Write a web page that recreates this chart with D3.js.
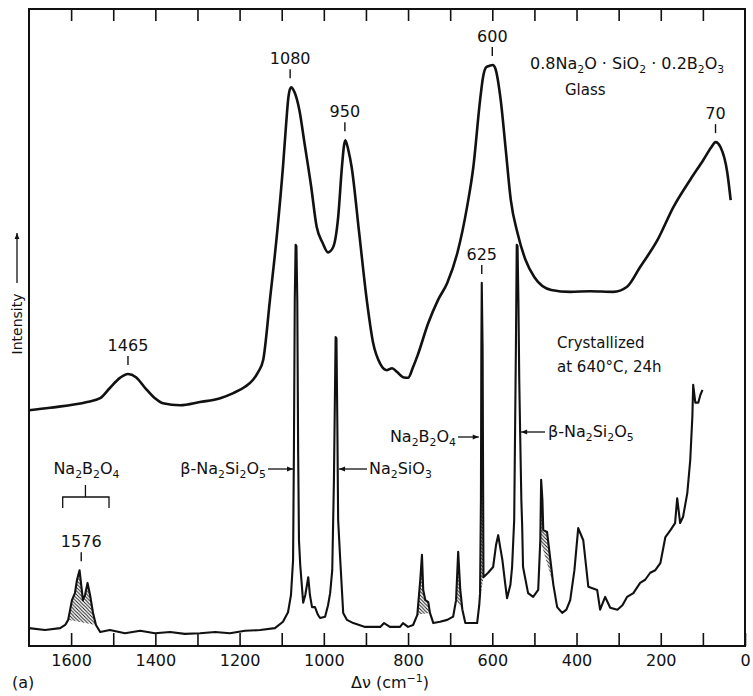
<!DOCTYPE html>
<html><head><meta charset="utf-8">
<script src="https://cdn.jsdelivr.net/npm/d3@7"></script>
<style>
body{margin:0;background:#fff}
text{font-family:"DejaVu Sans","Liberation Sans",sans-serif;fill:#111}
</style>
</head><body>
<svg id="c" width="753" height="696"></svg>
<script>
// ---------- DATA ----------
const glassWavenumber = [1700,1650,1562,1531,1508,1484,1465,1446,1424,1401,1382,1341,1294,1246,1215,1187,1168,1156,1144,1128,1111,1097,1090,1084,1078,1070,1058,1046,1030,1017,1003,990,978,966,957,952,949,942,934,916,898,883,866,850,838,826,812,800,788,778,752,729,707,683,660,645,629,622,614,606,599,593,580,568,556,540,521,500,460,415,367,313,280,249,208,170,130,99,80,70,58,42,34];
const glassIntensity  = [37.0,37.4,38.3,38.9,40.5,42.1,42.7,42.2,40.5,38.9,38.1,37.8,38.3,38.9,39.7,40.7,41.8,43.0,44.9,54.3,64.8,75.2,81.5,86.2,87.7,87.0,84.1,79.0,72.1,65.8,63.3,61.8,62.6,67.3,75.2,78.6,79.4,77.9,75.2,64.8,54.3,47.6,44.3,43.3,43.6,43.0,42.2,42.1,43.8,45.5,50.7,54.3,57.0,61.7,68.9,75.2,85.7,89.3,90.9,91.1,91.2,90.7,85.7,77.9,70.0,64.8,60.6,57.9,55.9,55.6,55.7,55.6,56.4,59.5,63.7,68.9,73.2,76.3,78.3,79.1,78.3,74.3,70.0];

const crystWavenumber = [1700,1662,1626,1614,1607,1598,1591,1586,1580,1575,1572,1567,1561,1555,1548,1541,1531,1508,1472,1436,1401,1365,1330,1294,1258,1223,1187,1151,1116,1097,1085,1078,1073,1071,1069,1067,1065,1063,1061,1059,1056,1049,1044,1037,1033,1028,1021,1014,1009,997,990,985,980,976,972,970,968,966,961,954,945,930,902,866,857,843,819,812,800,788,778,771,767,764,759,752,748,740,724,707,693,686,681,676,671,664,636,631,629,627,626,625,623,621,610,598,591,586,581,576,569,565,557,553,548,544,542,540,538,536,534,531,529,527,515,503,491,486,484,481,479,470,462,455,446,434,424,415,405,396,384,372,351,344,332,320,303,291,280,265,249,237,225,213,201,189,177,166,161,154,147,137,130,125,123,118,111,106,101];
const crystIntensity  = [2.8,2.5,2.8,3.3,4.1,7.2,8.3,10.4,11.9,9.0,7.2,8.0,9.9,8.0,5.2,3.3,2.2,2.5,2.0,2.4,2.0,2.2,1.9,2.0,2.2,2.0,2.4,2.5,2.8,3.8,5.3,8.0,13.5,30.8,54.3,63.0,62.8,54.3,30.8,16.6,12.7,6.8,8.0,10.8,8.0,6.1,6.1,4.9,4.4,4.6,6.4,8.3,11.9,26.1,48.5,48.3,35.5,19.8,13.5,5.2,4.1,3.6,3.0,3.0,3.6,3.0,3.0,3.6,3.0,3.3,4.9,10.4,14.3,8.8,7.2,6.9,5.2,3.6,3.8,4.1,4.6,7.2,14.8,8.8,5.7,3.6,3.6,6.4,8.3,22.9,46.5,57.0,46.5,10.8,11.5,12.4,15.9,17.4,15.4,13.5,9.6,7.5,9.6,12.4,19.8,46.5,63.0,62.8,54.3,41.8,33.9,22.9,18.7,12.4,8.3,7.7,8.8,16.6,26.1,22.9,18.2,17.9,13.5,9.6,6.1,5.2,5.7,7.2,11.9,18.5,16.6,9.3,8.8,5.7,7.7,6.0,5.7,6.4,7.7,8.3,9.9,10.4,11.5,11.9,13.0,17.1,18.2,19.3,23.2,19.3,20.3,24.0,29.2,36.0,41.0,38.2,38.2,39.4,40.2];

// hatched (Na2B2O4) bands on the crystallized trace: [from, to] in cm-1
const hatchFrom = [1610, 778, 688, 631, 486];
const hatchTo   = [1538, 748, 668, 617, 452];

const glassPeakValues = [1465, 1080, 950, 600, 70];
const glassPeakLabels = ["1465", "1080", "950", "600", "70"];
const crystPeakValues = [1576, 625];
const crystPeakLabels = ["1576", "625"];

const xTickValues = [1600,1500,1400,1300,1200,1100,1000,900,800,700,600,500,400,300,200,100,0];
const xTickLabels = ["1600","1400","1200","1000","800","600","400","200","0"];

// ---------- CHART ----------
const svg = d3.select("#c");
const L = 29, R = 745, T = 9, B = 646;
const x = d3.scaleLinear().domain([1700, 0]).range([L, R]);
const y = d3.scaleLinear().domain([0, 100]).range([B, T]);

const glass = glassWavenumber.map((v, i) => ({v, I: glassIntensity[i]}));
const cryst = crystWavenumber.map((v, i) => ({v, I: crystIntensity[i]}));

// hatch pattern
const defs = svg.append("defs");
const pat = defs.append("pattern").attr("id", "hatch").attr("patternUnits", "userSpaceOnUse")
  .attr("width", 3.5).attr("height", 3.5);
pat.append("path").attr("d", "M-1,-1 L4.5,4.5 M-1,2.5 L1,4.5 M2.5,-1 L4.5,1")
  .attr("stroke", "#111").attr("stroke-width", 0.9);
const arrowM = defs.append("marker").attr("id", "arr").attr("viewBox", "0 0 10 10")
  .attr("refX", 10).attr("refY", 5).attr("markerWidth", 8).attr("markerHeight", 6)
  .attr("markerUnits", "userSpaceOnUse").attr("orient", "auto");
arrowM.append("path").attr("d", "M0,1 L10,5 L0,9 Z").attr("fill", "#111");

// frame
svg.append("rect").attr("x", L).attr("y", T).attr("width", R - L).attr("height", B - T)
  .attr("fill", "none").attr("stroke", "#111").attr("stroke-width", 2);

// axes
const labelFor = d => (d % 200 === 0 ? xTickLabels[(1600 - d) / 200] : "");
const gb = svg.append("g").attr("transform", `translate(0,${B})`)
  .call(d3.axisBottom(x).tickValues(xTickValues).tickSize(-13).tickPadding(9).tickFormat(labelFor));
gb.select(".domain").remove();
gb.selectAll("line").attr("stroke", "#111").attr("stroke-width", 1.6);
gb.selectAll("text").attr("font-size", 16).attr("font-family", "DejaVu Sans").attr("fill", "#111");

const gt = svg.append("g").attr("transform", `translate(0,${T})`)
  .call(d3.axisTop(x).tickValues(xTickValues.filter(d => d > 0 && d < 1700)).tickSize(-12).tickFormat(""));
gt.select(".domain").remove();
gt.selectAll("line").attr("stroke", "#111").attr("stroke-width", 1.6);

// hatched areas
hatchFrom.forEach((a, k) => {
  const b = hatchTo[k];
  const pts = cryst.filter(d => d.v <= a && d.v >= b);
  const p0 = pts[0], p1 = pts[pts.length - 1];
  const base = v => p0.I + (p1.I - p0.I) * (p0.v - v) / (p0.v - p1.v);
  svg.append("path").datum(pts)
    .attr("d", d3.area().x(d => x(d.v)).y0(d => y(Math.min(base(d.v), d.I))).y1(d => y(d.I)))
    .attr("fill", "url(#hatch)").attr("stroke", "none");
});

// traces
svg.append("path").datum(glass)
  .attr("d", d3.line().x(d => x(d.v)).y(d => y(d.I)).curve(d3.curveMonotoneX))
  .attr("fill", "none").attr("stroke", "#111").attr("stroke-width", 2.6).attr("stroke-linejoin", "round");
svg.append("path").datum(cryst)
  .attr("d", d3.line().x(d => x(d.v)).y(d => y(d.I)))
  .attr("fill", "none").attr("stroke", "#111").attr("stroke-width", 2.1).attr("stroke-linejoin", "round");

// peak labels
function peakTop(series, v) {
  return d3.max(series.filter(d => Math.abs(d.v - v) <= 10), d => d.I);
}
function drawPeak(series, v, label) {
  const py = y(peakTop(series, v));
  const px = x(v);
  svg.append("line").attr("x1", px).attr("x2", px).attr("y1", py - 9).attr("y2", py - 18)
    .attr("stroke", "#111").attr("stroke-width", 1.4);
  svg.append("text").attr("x", px).attr("y", py - 23).attr("text-anchor", "middle")
    .attr("font-size", 16).text(label);
}
glassPeakValues.forEach((v, i) => drawPeak(glass, v, glassPeakLabels[i]));
crystPeakValues.forEach((v, i) => drawPeak(cryst, v, crystPeakLabels[i]));

// chemical text helper: parts [text, isSub]
function chem(xp, yp, parts, size, anchor) {
  const t = svg.append("text").attr("x", xp).attr("y", yp).attr("font-size", size)
    .attr("text-anchor", anchor || "start");
  parts.forEach(([s, sub], i) => {
    const prevSub = i > 0 && parts[i - 1][1];
    const ts = t.append("tspan").text(s);
    if (sub) ts.attr("font-size", size * 0.68);
    ts.attr("dy", sub && !prevSub ? 4 : (!sub && prevSub ? -4 : 0));
  });
  return t;
}

chem(530, 69, [["0.8Na",0],["2",1],["O · SiO",0],["2",1],[" · 0.2B",0],["2",1],["O",0],["3",1]], 16);
svg.append("text").attr("x", 565).attr("y", 95).attr("font-size", 15).text("Glass");
svg.append("text").attr("x", 557).attr("y", 348).attr("font-size", 15).text("Crystallized");
svg.append("text").attr("x", 557).attr("y", 372).attr("font-size", 15).text("at 640°C, 24h");

// Na2B2O4 bracket (upper left)
const bx0 = x(1620), bx1 = x(1510), bxm = x(1566);
svg.append("path").attr("d", `M${bx0},508 L${bx0},497 L${bx1},497 L${bx1},508 M${bxm},497 L${bxm},485`)
  .attr("fill", "none").attr("stroke", "#111").attr("stroke-width", 1.3);
chem(bxm + 1, 474, [["Na",0],["2",1],["B",0],["2",1],["O",0],["4",1]], 16, "middle");

// arrowed phase labels
chem(266, 474, [["β-Na",0],["2",1],["Si",0],["2",1],["O",0],["5",1]], 16, "end");
svg.append("line").attr("x1", 268).attr("y1", 469).attr("x2", x(1066) - 3).attr("y2", 469)
  .attr("stroke", "#111").attr("stroke-width", 1.3).attr("marker-end", "url(#arr)");

svg.append("line").attr("x1", 367).attr("y1", 469).attr("x2", x(971) + 3).attr("y2", 469)
  .attr("stroke", "#111").attr("stroke-width", 1.3).attr("marker-end", "url(#arr)");
chem(369, 474, [["Na",0],["2",1],["SiO",0],["3",1]], 16);

chem(456, 442, [["Na",0],["2",1],["B",0],["2",1],["O",0],["4",1]], 16, "end");
svg.append("line").attr("x1", 458).attr("y1", 437).attr("x2", x(625) - 3).attr("y2", 437)
  .attr("stroke", "#111").attr("stroke-width", 1.3).attr("marker-end", "url(#arr)");

svg.append("line").attr("x1", 545).attr("y1", 432).attr("x2", x(541) + 4).attr("y2", 432)
  .attr("stroke", "#111").attr("stroke-width", 1.3).attr("marker-end", "url(#arr)");
chem(548, 437, [["β-Na",0],["2",1],["Si",0],["2",1],["O",0],["5",1]], 16);

// y axis label with arrow
svg.append("text").attr("transform", "translate(22,324) rotate(-90)").attr("text-anchor", "middle")
  .attr("font-size", 14).text("Intensity");
svg.append("line").attr("x1", 17).attr("y1", 283).attr("x2", 17).attr("y2", 233)
  .attr("stroke", "#111").attr("stroke-width", 1.3).attr("marker-end", "url(#arr)");

// x axis title and panel letter
const xt = svg.append("text").attr("x", 390).attr("y", 688).attr("text-anchor", "middle").attr("font-size", 16);
xt.append("tspan").text("Δν (cm");
xt.append("tspan").attr("font-size", 11).attr("dy", -6).text("−1");
xt.append("tspan").attr("dy", 6).text(")");
svg.append("text").attr("x", 12).attr("y", 688).attr("font-size", 16).text("(a)");
</script>
</body></html>
